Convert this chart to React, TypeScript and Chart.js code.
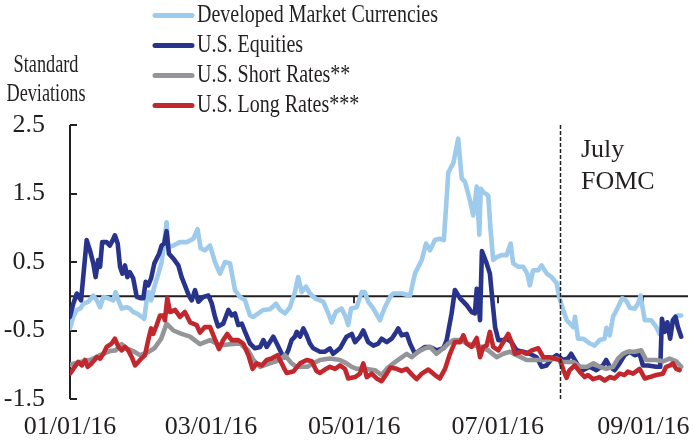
import React, { useEffect, useRef } from 'react';
import { Chart, registerables } from 'chart.js';

Chart.register(...registerables);

// ---------- data ----------
const tickDays = [0, 60, 121, 182, 244];
const tickLabels = ['01/01/16', '03/01/16', '05/01/16', '07/01/16', '09/01/16'];
const yTickValues = [-1.5, -0.5, 0.5, 1.5, 2.5];
const fomcDay = 208.5;
const fomcLabel = ['July', 'FOMC'];
const axisTitle = ['Standard', 'Deviations'];
const seriesNames = ['Developed Market Currencies', 'U.S. Equities', 'U.S. Short Rates**', 'U.S. Long Rates***'];

const dmcDays = [0, 1.4, 2.9, 4.3, 5.7, 7.8, 9.9, 11.4, 12.8, 14.2, 16.3, 18.4, 19.4, 20.6, 22.0, 24.1, 25.5, 26.9, 28.4, 30.5, 31.6, 32.6, 33.6, 34.5, 35.9, 37.6, 39.0, 40.4, 41.1, 41.8, 44.0, 46.8, 49.7, 52.5, 54.3, 55.6, 57.4, 59.6, 61.7, 63.8, 66.0, 68.1, 70.2, 72.3, 74.5, 76.6, 78.0, 80.1, 82.3, 85.1, 87.7, 89.4, 91.5, 93.6, 95.7, 97.1, 98.6, 100.4, 102.1, 104.3, 107.8, 109.9, 111.4, 113.1, 115.6, 117.3, 118.4, 119.6, 122.0, 124.1, 125.5, 126.9, 129.1, 131.9, 134.0, 136.2, 137.6, 141.1, 144.7, 146.8, 149.7, 151.5, 153.2, 155.3, 157.4, 159.1, 161.0, 163.1, 165.2, 166.7, 168.1, 170.2, 171.6, 173.1, 174.2, 174.8, 175.9, 178.0, 179.0, 180.1, 181.6, 183.7, 185.8, 187.5, 188.6, 190.8, 192.9, 194.6, 195.7, 197.1, 199.3, 200.7, 202.9, 205.0, 207.1, 208.2, 209.7, 211.4, 214.2, 214.9, 216.2, 218.4, 221.3, 223.3, 225.4, 227.5, 228.3, 229.7, 231.1, 233.2, 235.0, 236.8, 238.3, 240.3, 241.7, 242.8, 244.6, 247.4, 249.5, 250.9, 253.2, 255.3, 257.4, 258.7, 260.1];
const dmcValues = [-0.47, -0.30, -0.20, -0.18, -0.11, -0.08, 0.01, -0.06, -0.16, -0.01, -0.03, -0.06, 0.06, -0.06, -0.18, -0.16, -0.18, -0.23, -0.25, -0.30, -0.33, -0.06, 0.06, -0.06, 0.14, 0.33, 0.50, 0.87, 1.08, 0.72, 0.74, 0.79, 0.79, 0.84, 0.98, 0.70, 0.67, 0.74, 0.50, 0.33, 0.50, 0.48, 0.09, -0.01, -0.06, -0.28, -0.30, -0.25, -0.20, -0.19, -0.11, -0.20, -0.25, -0.16, 0.06, 0.28, 0.06, 0.14, 0.04, -0.03, -0.08, -0.25, -0.38, -0.23, -0.18, -0.30, -0.42, -0.18, -0.16, 0.06, 0.06, -0.08, -0.18, -0.35, -0.16, -0.01, 0.04, 0.04, 0.01, 0.33, 0.53, 0.77, 0.67, 0.82, 0.84, 0.82, 1.81, 1.94, 2.30, 1.72, 1.67, 1.40, 1.18, 1.60, 0.90, 1.57, 1.52, 1.47, 0.96, 0.53, 0.57, 0.60, 0.60, 0.77, 0.48, 0.43, 0.43, 0.33, 0.16, 0.38, 0.38, 0.45, 0.33, 0.28, 0.19, -0.01, -0.18, -0.35, -0.45, -0.30, -0.62, -0.62, -0.69, -0.72, -0.64, -0.62, -0.46, -0.57, -0.30, -0.16, -0.03, -0.07, -0.17, -0.18, -0.11, 0.01, -0.35, -0.35, -0.45, -0.55, -0.50, -0.42, -0.30, -0.28, -0.28];

const eqDays = [0, 1.4, 2.9, 3.8, 4.7, 7.1, 8.5, 9.9, 10.9, 12.0, 12.8, 13.7, 15.6, 17.0, 18.2, 19.1, 20.3, 21.3, 22.3, 23.4, 24.4, 25.5, 26.9, 28.4, 30.2, 31.2, 32.2, 33.3, 34.5, 35.9, 37.9, 39.0, 40.1, 41.1, 42.1, 44.0, 46.1, 47.5, 48.9, 50.6, 51.8, 53.2, 54.6, 56.7, 58.9, 60.3, 61.7, 63.0, 65.2, 67.4, 68.8, 70.2, 71.6, 73.1, 74.5, 76.6, 78.7, 80.9, 82.3, 83.7, 86.5, 88.0, 90.1, 91.5, 92.9, 94.3, 95.7, 96.5, 97.9, 99.3, 100.7, 102.1, 103.5, 106.4, 108.5, 110.6, 112.0, 114.9, 117.7, 119.9, 121.3, 123.4, 124.8, 126.9, 129.1, 131.2, 132.6, 134.8, 136.9, 138.3, 139.7, 141.1, 143.3, 144.7, 146.8, 148.9, 151.1, 153.2, 156.0, 158.9, 160.3, 162.4, 163.8, 166.0, 168.8, 170.9, 172.3, 173.1, 173.7, 174.5, 175.3, 177.3, 178.7, 179.9, 180.9, 182.3, 184.4, 185.8, 187.9, 190.1, 192.9, 195.7, 198.6, 200.7, 202.8, 205.0, 207.1, 209.8, 211.9, 213.3, 214.8, 216.2, 218.3, 221.1, 224.0, 226.8, 228.2, 229.7, 231.8, 233.9, 236.0, 238.2, 240.3, 242.4, 243.8, 246.0, 249.5, 251.2, 251.9, 253.1, 254.2, 255.4, 256.6, 257.7, 258.7, 260.1];
const eqValues = [-0.30, -0.11, 0.04, -0.01, -0.06, 0.82, 0.67, 0.48, 0.28, 0.53, 0.43, 0.79, 0.79, 0.74, 0.82, 0.89, 0.77, 0.43, 0.33, 0.45, 0.28, 0.35, 0.26, -0.01, -0.03, -0.03, 0.21, 0.16, 0.26, 0.48, 0.62, 0.74, 0.77, 0.95, 0.62, 0.55, 0.45, 0.28, 0.16, 0.01, -0.06, 0.09, -0.08, -0.01, 0.01, -0.10, -0.30, -0.44, -0.40, -0.20, -0.28, -0.25, -0.42, -0.40, -0.52, -0.69, -0.76, -0.74, -0.64, -0.74, -0.59, -0.69, -0.84, -0.89, -0.79, -0.64, -0.59, -0.52, -0.59, -0.47, -0.57, -0.69, -0.76, -0.81, -0.81, -0.76, -0.84, -0.76, -0.59, -0.55, -0.67, -0.59, -0.50, -0.67, -0.72, -0.69, -0.62, -0.67, -0.62, -0.55, -0.47, -0.57, -0.55, -0.69, -0.84, -0.79, -0.74, -0.74, -0.79, -0.76, -0.64, -0.25, 0.09, -0.03, -0.13, -0.23, -0.25, 0.11, -0.01, -0.35, 0.66, 0.48, 0.33, -0.11, -0.45, -0.64, -0.64, -0.62, -0.67, -0.79, -0.81, -0.84, -0.89, -1.03, -1.01, -0.91, -0.86, -0.93, -0.91, -0.84, -0.93, -1.01, -1.08, -1.03, -1.08, -1.01, -0.93, -1.03, -1.08, -0.98, -0.86, -0.81, -0.86, -0.84, -1.01, -1.01, -1.03, -1.03, -0.33, -0.52, -0.38, -0.62, -0.35, -0.30, -0.45, -0.59];

const shortDays = [0, 4.3, 8.5, 12.8, 17.0, 19.4, 22.0, 24.1, 26.9, 29.7, 33.0, 35.9, 38.8, 41.1, 44.0, 47.5, 51.1, 55.3, 59.6, 63.8, 68.1, 72.3, 75.8, 78.0, 80.9, 85.0, 89.4, 91.5, 94.3, 96.5, 101.0, 103.5, 106.4, 110.6, 114.9, 117.7, 119.9, 122.0, 125.5, 129.8, 132.6, 134.8, 137.6, 140.4, 143.3, 145.4, 148.2, 151.1, 153.2, 156.0, 158.9, 161.0, 163.1, 166.2, 169.0, 172.3, 175.3, 178.0, 181.6, 184.4, 187.2, 190.1, 194.3, 198.6, 202.9, 207.1, 209.8, 214.2, 217.3, 220.0, 222.8, 225.4, 228.2, 231.1, 233.2, 235.3, 237.4, 240.3, 243.1, 245.2, 249.5, 252.3, 255.2, 258.0, 260.1];
const shortValues = [-1.00, -0.96, -0.93, -0.86, -0.80, -0.79, -0.70, -0.76, -0.80, -0.86, -0.82, -0.76, -0.62, -0.40, -0.50, -0.55, -0.59, -0.70, -0.64, -0.72, -0.70, -0.69, -0.79, -0.93, -1.03, -0.98, -0.93, -0.86, -0.98, -1.03, -1.03, -0.98, -0.93, -0.91, -0.93, -0.98, -1.03, -1.06, -1.06, -1.08, -1.15, -1.06, -0.98, -0.91, -0.84, -0.89, -0.81, -0.76, -0.74, -0.84, -0.76, -0.69, -0.64, -0.64, -0.69, -0.72, -0.74, -0.79, -0.89, -0.84, -0.81, -0.86, -0.93, -0.93, -0.93, -0.91, -0.96, -0.96, -1.03, -1.03, -0.98, -1.03, -1.06, -1.03, -0.91, -0.84, -0.81, -0.81, -0.79, -0.93, -0.93, -0.95, -0.91, -0.95, -1.03];

const longDays = [0, 1.4, 3.5, 5.0, 6.4, 7.5, 9.2, 11.4, 12.8, 14.2, 15.6, 17.7, 19.1, 20.6, 22.0, 23.4, 24.8, 26.3, 27.7, 29.8, 31.9, 33.3, 34.5, 35.4, 36.9, 38.3, 39.7, 40.4, 41.4, 42.6, 44.7, 46.8, 48.9, 51.1, 53.9, 55.3, 57.4, 59.6, 61.7, 63.4, 65.2, 66.9, 68.8, 71.6, 73.7, 75.9, 77.7, 79.4, 81.6, 83.7, 85.8, 88.3, 90.8, 92.2, 95.0, 97.9, 100.7, 102.9, 104.9, 106.4, 108.5, 110.6, 112.8, 114.9, 117.0, 118.4, 121.3, 123.4, 124.8, 126.3, 128.4, 130.5, 132.6, 134.8, 136.4, 139.0, 141.1, 143.3, 145.4, 147.5, 149.7, 152.5, 155.3, 157.4, 159.6, 161.7, 163.8, 166.0, 167.4, 168.8, 170.9, 173.1, 174.5, 175.9, 177.3, 178.7, 180.1, 182.3, 184.4, 186.5, 187.9, 189.4, 192.2, 194.3, 196.5, 199.3, 201.4, 204.3, 207.1, 208.5, 209.9, 211.3, 212.6, 214.8, 216.9, 219.0, 220.4, 222.6, 225.4, 227.5, 229.7, 231.8, 233.9, 236.0, 237.4, 239.6, 242.4, 244.6, 246.7, 249.5, 252.3, 253.7, 255.4, 256.6, 258.0, 259.4];
const longValues = [-1.13, -1.06, -0.96, -1.01, -0.93, -1.03, -0.98, -0.89, -0.91, -0.84, -0.74, -0.69, -0.62, -0.74, -0.79, -0.74, -0.79, -0.89, -1.01, -0.93, -0.86, -0.64, -0.47, -0.55, -0.42, -0.28, -0.28, -0.35, -0.03, -0.23, -0.20, -0.30, -0.23, -0.38, -0.42, -0.53, -0.45, -0.45, -0.63, -0.77, -0.64, -0.55, -0.64, -0.64, -0.69, -0.86, -1.06, -0.98, -1.01, -0.93, -0.91, -0.86, -1.03, -1.12, -1.10, -0.98, -0.93, -0.95, -1.09, -1.12, -1.07, -1.03, -1.06, -1.01, -1.06, -1.20, -1.18, -1.13, -0.98, -1.18, -1.13, -1.20, -1.24, -1.13, -1.04, -1.06, -1.09, -1.06, -1.14, -1.21, -1.13, -1.07, -1.15, -1.20, -1.06, -0.84, -0.67, -0.67, -0.57, -0.69, -0.74, -0.61, -0.89, -0.74, -0.72, -0.52, -0.74, -0.79, -0.67, -0.55, -0.67, -0.84, -0.81, -0.84, -0.79, -0.76, -0.89, -0.89, -0.92, -0.93, -1.07, -1.19, -1.08, -1.01, -1.10, -1.18, -1.15, -1.21, -1.18, -1.23, -1.18, -1.20, -1.13, -1.15, -1.10, -1.13, -1.06, -1.20, -1.18, -1.15, -1.13, -1.03, -1.01, -0.98, -1.06, -1.08];

// ---------- styles ----------
const INK = '#231f20';
const FONT = '"Liberation Serif", "Times New Roman", serif';
const COLORS = ['#9ecaec', '#28348c', '#939598', '#c1272d'];

const pairs = (xs: number[], ys: number[]) => xs.map((d, i) => ({ x: d, y: ys[i] }));

const overlay = {
  id: 'overlay',
  beforeDatasetsDraw(chart: any) {
    const { ctx, chartArea: a, scales } = chart;
    const x = scales.x;
    const y = scales.y;
    const y0 = y.getPixelForValue(0);
    ctx.save();
    ctx.strokeStyle = INK;
    ctx.lineWidth = 1.8;
    ctx.beginPath();
    ctx.moveTo(a.left, y0);
    ctx.lineTo(a.right, y0);
    for (const d of tickDays.slice(1)) {
      const px = Math.round(x.getPixelForValue(d));
      ctx.moveTo(px, y0);
      ctx.lineTo(px, y0 + 7);
    }
    ctx.stroke();
    ctx.lineWidth = 2;
    ctx.beginPath();
    ctx.moveTo(a.left, a.top);
    ctx.lineTo(a.left, a.bottom);
    for (const v of yTickValues) {
      const py = Math.round(y.getPixelForValue(v));
      ctx.moveTo(a.left, py);
      ctx.lineTo(a.left + 7, py);
    }
    ctx.stroke();
    ctx.restore();
  },
  afterDatasetsDraw(chart: any) {
    const { ctx, chartArea: a, scales } = chart;
    const x = scales.x;
    const fx = Math.round(x.getPixelForValue(fomcDay)) + 0.5;
    ctx.save();
    ctx.strokeStyle = INK;
    ctx.lineWidth = 1.5;
    ctx.setLineDash([4, 2]);
    ctx.beginPath();
    ctx.moveTo(fx, a.top);
    ctx.lineTo(fx, a.bottom);
    ctx.stroke();
    ctx.setLineDash([]);

    ctx.fillStyle = INK;
    ctx.textBaseline = 'middle';
    ctx.textAlign = 'left';
    ctx.font = `26px ${FONT}`;
    ctx.fillText(fomcLabel[0], 581, 150);
    ctx.fillText(fomcLabel[1], 581, 182);

    // legend
    ctx.font = `25px ${FONT}`;
    seriesNames.forEach((name, i) => {
      const ry = 15.5 + i * 30;
      ctx.strokeStyle = COLORS[i];
      ctx.lineWidth = 5;
      ctx.lineCap = 'round';
      ctx.beginPath();
      ctx.moveTo(155, ry);
      ctx.lineTo(192, ry);
      ctx.stroke();
      ctx.save();
      ctx.translate(197, ry);
      ctx.scale(0.8, 1);
      ctx.fillStyle = INK;
      ctx.fillText(name, 0, 0);
      ctx.restore();
    });

    // axis title
    ctx.textAlign = 'center';
    [65.5, 94].forEach((ty, i) => {
      ctx.save();
      ctx.translate(46, ty);
      ctx.scale(0.73, 1);
      ctx.fillStyle = INK;
      ctx.fillText(axisTitle[i], 0, 0);
      ctx.restore();
    });
    ctx.restore();
  },
};

export default function App() {
  const ref = useRef<HTMLCanvasElement | null>(null);
  useEffect(() => {
    document.body.style.margin = '0';
    const canvas = ref.current;
    if (!canvas) return;
    const chart = new Chart(canvas, {
      type: 'line',
      data: {
        datasets: [
          { label: seriesNames[0], data: pairs(dmcDays, dmcValues), borderColor: COLORS[0], order: 4 },
          { label: seriesNames[1], data: pairs(eqDays, eqValues), borderColor: COLORS[1], order: 3 },
          { label: seriesNames[2], data: pairs(shortDays, shortValues), borderColor: COLORS[2], order: 2 },
          { label: seriesNames[3], data: pairs(longDays, longValues), borderColor: COLORS[3], order: 1 },
        ].map((d) => ({
          ...d,
          borderWidth: 4.6,
          pointRadius: 0,
          tension: 0,
          fill: false,
          borderJoinStyle: 'round' as const,
          borderCapStyle: 'round' as const,
        })),
      },
      options: {
        animation: false,
        responsive: false,
        devicePixelRatio: 1,
        layout: { padding: { top: 125, right: 5, left: 0, bottom: 0 } },
        plugins: { legend: { display: false }, tooltip: { enabled: false }, title: { display: false } },
        scales: {
          x: {
            type: 'linear',
            min: 0,
            max: 263,
            grid: { display: false, drawTicks: false },
            border: { display: false },
            afterBuildTicks: (s: any) => {
              s.ticks = tickDays.map((v) => ({ value: v }));
            },
            afterFit: (s: any) => {
              s.height = 48;
              s.paddingLeft = 0;
              s.paddingRight = 0;
            },
            ticks: {
              autoSkip: false,
              maxRotation: 0,
              padding: 13,
              color: INK,
              font: { family: FONT, size: 26 },
              callback: (v: any) => {
                const i = tickDays.indexOf(Number(v));
                return i >= 0 ? tickLabels[i] : '';
              },
            },
          },
          y: {
            type: 'linear',
            min: -1.5,
            max: 2.5,
            grid: { display: false, drawTicks: false },
            border: { display: false },
            afterBuildTicks: (s: any) => {
              s.ticks = yTickValues.map((v) => ({ value: v }));
            },
            afterFit: (s: any) => {
              s.width = 70;
              s.paddingTop = 0;
              s.paddingBottom = 0;
            },
            ticks: {
              padding: 25,
              color: INK,
              font: { family: FONT, size: 26 },
              callback: (v: any) => Number(v).toFixed(1),
            },
          },
        },
      },
      plugins: [overlay],
    } as any);
    return () => chart.destroy();
  }, []);
  return (
    <div style={{ position: 'absolute', left: 0, top: 0, width: 693, height: 447 }}>
      <canvas ref={ref} width={693} height={447} style={{ width: 693, height: 447, display: 'block' }} />
    </div>
  );
}
